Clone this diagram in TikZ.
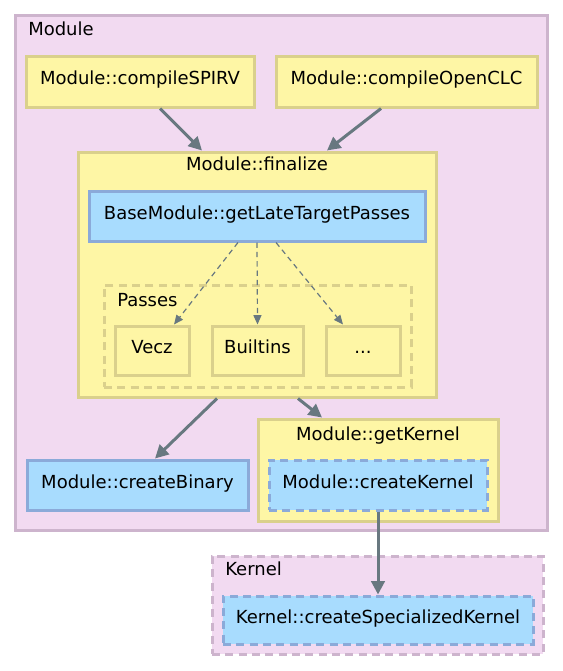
\documentclass[tikz,border=0pt]{standalone}
\usepackage{fontspec}
\setmainfont{DejaVu Sans}
\usetikzlibrary{fit,calc,arrows.meta}
\definecolor{pfill}{HTML}{F2DAF1}
\definecolor{pborder}{HTML}{CDB4CD}
\definecolor{yfill}{HTML}{FEF6A5}
\definecolor{yborder}{HTML}{DAD08C}
\definecolor{bfill}{HTML}{A8DCFE}
\definecolor{bborder}{HTML}{8BAAD9}
\definecolor{edgecol}{HTML}{687880}
\begin{document}
\begin{tikzpicture}[x=0.75pt,y=-0.75pt,
  every node/.style={font=\fontsize{13.5pt}{16pt}\selectfont},
  nbox/.style={draw, line width=2.25pt, inner sep=0pt, text height=0.75em, text depth=0.3em, anchor=center},
  ybox/.style={nbox, fill=yfill, draw=yborder},
  bbox/.style={nbox, fill=bfill, draw=bborder},
  dashedge/.style={dash pattern=on 6pt off 4pt},
  pclus/.style={draw=pborder, fill=pfill, line width=2.25pt, inner sep=0pt},
  yclus/.style={draw=yborder, fill=yfill, line width=2.25pt, inner sep=0pt},
  lbl/.style={inner sep=0pt},
  flow/.style={draw=edgecol, line width=2.25pt, -{Triangle[length=10pt,width=10pt]}},
  dflow/.style={draw=edgecol, line width=0.9pt, dash pattern=on 4pt off 3pt, -{Triangle[length=7pt,width=6pt]}},
]
\useasboundingbox (0,0) rectangle (563,671);

% clusters
\node[pclus, fit={(15,15) (547,530)}] (module) {};
\node[lbl, anchor=base west] (modulelbl) at (28,36) {Module};

\node[pclus, dashedge, fit={(212,556) (543,654)}] (kernel) {};
\node[lbl, anchor=base west] (kernellbl) at (225,575) {Kernel};

\node[yclus, fit={(78,152) (436,397)}] (finalize) {};
\node[lbl, anchor=base] (finalizelbl) at (257,170) {Module::finalize};

\node[yclus, dashedge, fit={(104,285) (411,387)}] (passes) {};
\node[lbl, anchor=base west] (passeslbl) at (117,306) {Passes};

\node[yclus, fit={(258,419) (498,521)}] (getkernel) {};
\node[lbl, anchor=base] (getkernellbl) at (378,440) {Module::getKernel};

% boxes
\node[ybox, minimum width=171pt, minimum height=38.25pt] (spirv) at (140,81.5) {Module::compileSPIRV};
\node[ybox, minimum width=195.75pt, minimum height=38.25pt] (opencl) at (406.5,81.5) {Module::compileOpenCLC};
\node[bbox, minimum width=252pt, minimum height=37.5pt] (late) at (257,216) {BaseModule::getLateTargetPasses};
\node[ybox, minimum width=55.5pt, minimum height=36.75pt] (vecz) at (152,350.5) {Vecz};
\node[ybox, minimum width=68.25pt, minimum height=36.75pt] (builtins) at (257.5,350.5) {Builtins};
\node[ybox, minimum width=55.5pt, minimum height=36.75pt] (dots) at (363,350.5) {...};
\node[bbox, minimum width=165.75pt, minimum height=37.5pt] (binary) at (137.5,485) {Module::createBinary};
\node[bbox, dashedge, minimum width=163.5pt, minimum height=37.5pt] (createk) at (378,485) {Module::createKernel};
\node[bbox, dashedge, minimum width=232.5pt, minimum height=36pt] (spec) at (378,620) {Kernel::createSpecializedKernel};

% connectors
\draw[flow] ($(spirv.south)+(20,0)$) -- ($(finalize.north)+(-55,0)$);
\draw[flow] ($(opencl.south)+(-25.5,0)$) -- ($(finalize.north)+(70,0)$);
\draw[flow] ($(finalize.south)+(-40,0)$) -- ($(binary.north)+(17.5,0)$);
\draw[flow] ($(finalize.south)+(41,0)$) -- ($(getkernel.north)+(-56,0)$);
\draw[flow] (createk.south) -- (spec.north);

\draw[dflow] ($(late.south)+(-19,0)$) -- ($(vecz.north)+(22,0)$);
\draw[dflow] (late.south) -- (builtins.north);
\draw[dflow] ($(late.south)+(19,0)$) -- ($(dots.north)+(-20,0)$);
\end{tikzpicture}
\end{document}
